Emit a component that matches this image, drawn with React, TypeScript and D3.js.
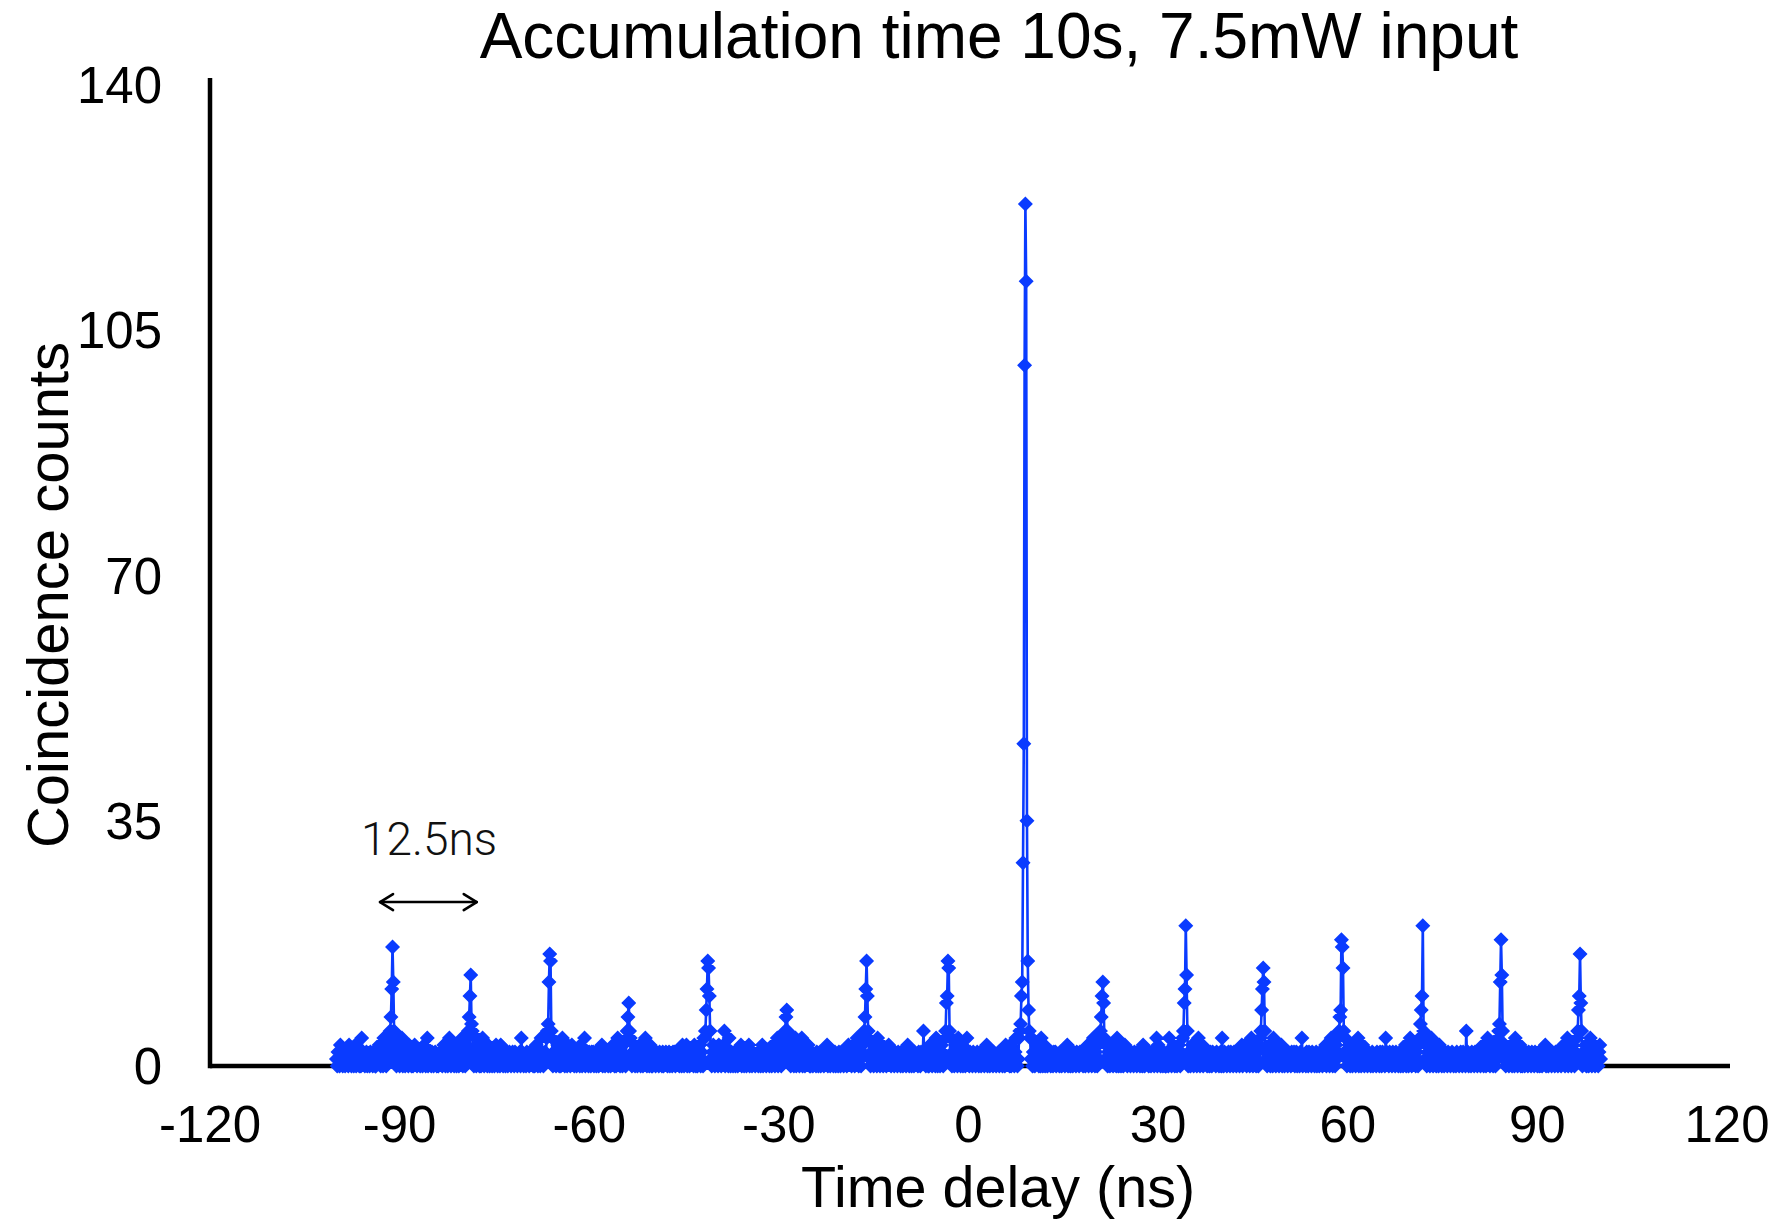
import React from "react";
import * as d3 from "d3";

const chartTitle = "Accumulation time 10s, 7.5mW input";
const xAxisLabel = "Time delay (ns)";
const yAxisLabel = "Coincidence counts";
const delayTicks = [-120, -90, -60, -30, 0, 30, 60, 90, 120];
const countTicks = [0, 35, 70, 105, 140];
const delayStart = -100;
const delayEnd = 100;

// background coincidence counts per time bin (one digit per bin, -100 ns .. 100 ns)
const baselineRows = [
  "10210321012021103120210130211020412101201102110210",
  "02113201204210131020123102011302140120211032102013",
  "21021102101320140211021012101021120131021024102110",
  "12031021140210230112023102104310201420112031021021",
  "01320120311021012012101210211011204210110211021120",
  "20131021042101213021021402110231020141201103210231",
  "10210112031021401120210212012011021130210211021012",
  "31020142101203110231024102130210213012011420120310",
  "02110211021102011210120110212011120210320113021021",
  "12031020113021042101302110231021203110213502120410",
  "21012011021130210120113021021101120210130211021102",
  "10321012402110231021301210321014023102140210211320",
  "01201110210120121021130210212012011021021102110231",
  "21031201142021023101320141021302110421012302110213",
  "12021102110211021012101320120110211102102115210110",
  "03120112041021013201203102114021023104210130210241",
  "10211021101210120112011302102110211011201210210312",
  "21030211024101320120311023102140210123102041023011",
  "02110210212011102101210213012011021102110211201201",
  "13021102410210312014102131021023102110420130210231",
  "20111021102110211012031021110210211021403120110210",
  "01204210213011023102104120130210231021102410213012",
  "12011021021110211012041021101210211021101210213021",
  "31021102410213012031021140210231021042101310213021",
  "02110211021120120110214011102102110211012011021102",
  "21302110241021031201320110241021302103120114021023",
  "10211021101201110211021021104211021102110211012011",
  "02130210241021130210312014021302110241021301203110",
  "21021102110121011021101210211051201102110211021101",
  "13021024110213021031201421021302110231021041201130",
  "20110211021102110211012011021130210211021102110211",
  "01231021402110231021041201402113021024102130211023",
  "1",
];

// coincidence peaks every 12.5 ns: delay of the maximum and counts in consecutive bins
const peakDelays = [-91.1, -78.8, -66.3, -53.8, -41.2, -28.7, -16.1, -3.3, 9.0, 21.3, 34.4, 46.6, 59.0, 71.9, 84.2, 96.7];
const peakProfiles = [
  [4, 5, 7, 11, 17, 12, 5, 4],
  [4, 5, 7, 10, 13, 6, 5],
  [4, 5, 6, 12, 16, 15, 5, 4],
  [4, 5, 7, 9, 5, 4],
  [4, 5, 8, 11, 15, 14, 10, 5],
  [4, 5, 7, 8, 5],
  [4, 5, 7, 11, 15, 10, 5],
  [4, 5, 9, 10, 15, 14, 5],
  [4, 5, 6, 10, 12, 29, 46, 100, 123, 112, 35, 15, 8, 5, 4],
  [4, 5, 7, 10, 12, 9, 4],
  [4, 5, 9, 11, 20, 13, 5],
  [4, 5, 8, 11, 14, 12, 5],
  [4, 5, 7, 8, 18, 17, 14, 5],
  [4, 6, 8, 10, 20, 5, 4],
  [4, 5, 6, 12, 18, 13, 5],
  [4, 5, 8, 10, 16, 9, 5],
];

const spanLabel = "12.5ns";
const spanFrom = -93.1;
const spanTo = -77.8;
const spanLevel = 23.4;
const spanLabelDelay = -85.35;
const spanLabelLevel = 30.1;

function buildSeries() {
  const digits = baselineRows.join("");
  const n = digits.length;
  const step = (delayEnd - delayStart) / (n - 1);
  const counts = Array.from(digits, (c) => +c);
  peakDelays.forEach((d, k) => {
    const prof = peakProfiles[k];
    const maxI = prof.indexOf(Math.max(...prof));
    const center = Math.round((d - delayStart) / step);
    prof.forEach((v, j) => {
      const i = center - maxI + j;
      if (i >= 0 && i < n) counts[i] = v;
    });
  });
  return counts.map((c, i) => ({ t: delayStart + i * step, c }));
}

const W = 1778;
const H = 1219;
const FONT = "'Liberation Sans', Arial, Helvetica, sans-serif";
const BLUE = "#0a3bff";

export default function App() {
  const data = buildSeries();
  const x = d3.scaleLinear().domain([-120, 120]).range([210, 1727]);
  const y = d3.scaleLinear().domain([0, 140]).range([1066, 85]);
  const line = d3
    .line<{ t: number; c: number }>()
    .x((d) => x(d.t))
    .y((d) => y(d.c));
  const r = 7.5;
  const markers = data
    .map((d) => {
      const px = x(d.t);
      const py = y(d.c);
      return `M${px},${py - r}L${px + r},${py}L${px},${py + r}L${px - r},${py}Z`;
    })
    .join("");

  const ay = y(spanLevel);
  const ax0 = x(spanFrom);
  const ax1 = x(spanTo);

  return (
    <svg
      width={W}
      height={H}
      style={{ position: "absolute", left: 0, top: 0, background: "#fff" }}
      fontFamily={FONT}
    >
      <rect x={0} y={0} width={W} height={H} fill="#fff" />
      <text x={999} y={58} fontSize={64} textAnchor="middle" fill="#000">
        {chartTitle}
      </text>
      {/* axes */}
      <line x1={x(-120)} x2={x(-120)} y1={y(140) - 7} y2={y(0) + 2.25} stroke="#000" strokeWidth={4.5} />
      <line x1={x(-120)} x2={x(120) + 3} y1={y(0)} y2={y(0)} stroke="#000" strokeWidth={4.5} />
      {countTicks.map((v) => (
        <text key={"y" + v} x={162} y={y(v) + 18} fontSize={51} textAnchor="end" fill="#000">
          {v}
        </text>
      ))}
      {delayTicks.map((v) => (
        <text key={"x" + v} x={x(v)} y={1142} fontSize={51} textAnchor="middle" fill="#000">
          {v}
        </text>
      ))}
      <text x={998} y={1207} fontSize={57.5} textAnchor="middle" fill="#000">
        {xAxisLabel}
      </text>
      <text transform={`translate(68,595) rotate(-90)`} fontSize={58} textAnchor="middle" fill="#000">
        {yAxisLabel}
      </text>
      {/* data */}
      <path d={line(data) || ""} fill="none" stroke={BLUE} strokeWidth={2.6} strokeLinejoin="round" />
      <path d={markers} fill={BLUE} stroke="none" />
      {/* 12.5 ns annotation */}
      <text
        x={x(spanLabelDelay)}
        y={y(spanLabelLevel)}
        fontSize={46}
        textAnchor="middle"
        fill="#111"
        fontFamily="Roboto, 'Liberation Sans', Arial, sans-serif"
        fontWeight={300}
      >
        {spanLabel}
      </text>
      <g stroke="#000" strokeWidth={2.6} fill="none" strokeLinecap="round" strokeLinejoin="round">
        <line x1={ax0} x2={ax1} y1={ay} y2={ay} />
        <path d={`M${ax0 + 13},${ay - 8}L${ax0},${ay}L${ax0 + 13},${ay + 8}`} />
        <path d={`M${ax1 - 13},${ay - 8}L${ax1},${ay}L${ax1 - 13},${ay + 8}`} />
      </g>
    </svg>
  );
}
